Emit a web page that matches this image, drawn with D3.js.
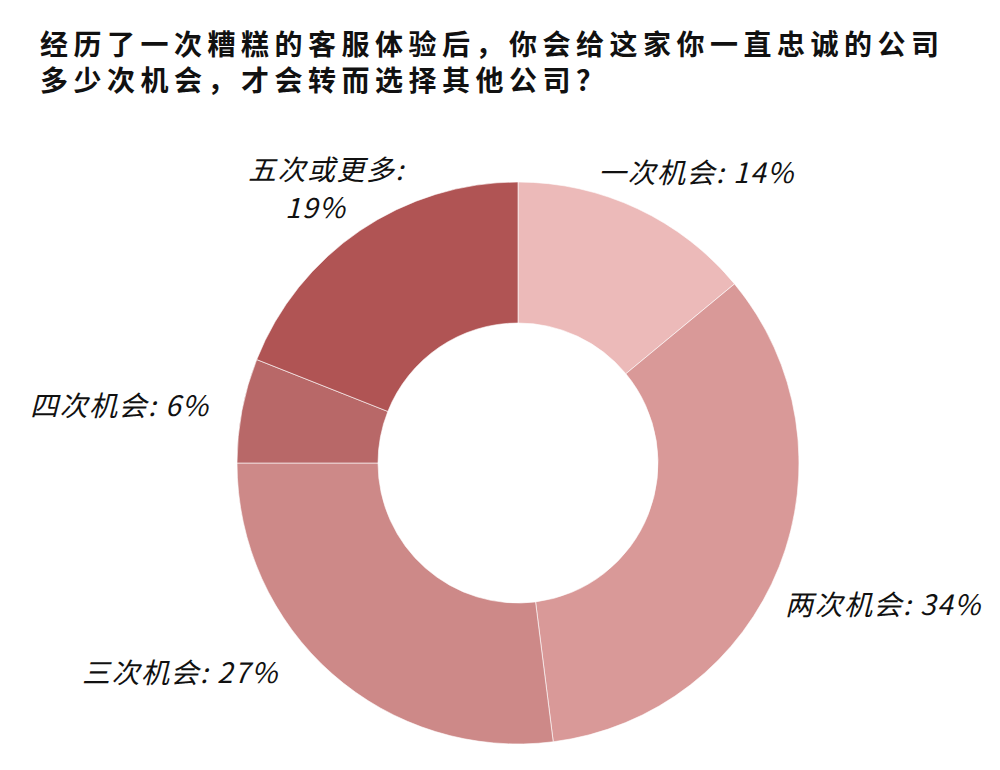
<!DOCTYPE html>
<html><head><meta charset="utf-8">
<script src="https://cdn.jsdelivr.net/npm/d3@7/dist/d3.min.js"></script>
<style>body{margin:0;background:#fff}</style></head>
<body><svg id="c" width="1000" height="770"></svg>
<script>
const categories = ["一次机会","两次机会","三次机会","四次机会","五次或更多"];
const values = [14,34,27,6,19];
const colors = ["#ECBAB9","#D99998","#CD8988","#B86868","#B05454"];
const titleLines = ["经历了一次糟糕的客服体验后，你会给这家你一直忠诚的公司","多少次机会，才会转而选择其他公司？"];

const svg = d3.select("#c");
const font = "'Noto Sans CJK SC', sans-serif";
svg.selectAll("text.t").data(titleLines).join("text")
  .attr("x",40).attr("y",(d,i)=>55+i*36)
  .attr("font-family",font).attr("font-weight","bold").attr("font-size",28)
  .attr("letter-spacing",5.5).attr("fill","#111").text(d=>d);

const cx=518, cy=463, R=281, r=140;
const pie = d3.pie().sort(null).value(d=>d)(values);
const arc = d3.arc().innerRadius(r).outerRadius(R);
const g = svg.append("g").attr("transform",`translate(${cx},${cy})`);
g.selectAll("path").data(pie).join("path").attr("d",arc)
  .attr("fill",(d,i)=>colors[i]).attr("stroke","#fff").attr("stroke-width",0.6);

const labelPos = [
  {x:598,y:183,lines:[categories[0]+": "+values[0]+"%"]},
  {x:785,y:615,lines:[categories[1]+": "+values[1]+"%"]},
  {x:82,y:683,lines:[categories[2]+": "+values[2]+"%"]},
  {x:30,y:416,lines:[categories[3]+": "+values[3]+"%"]},
  {x:248,y:180,lines:[categories[4]+":",values[4]+"%"],x2:285}
];
labelPos.forEach(p=>{
  p.lines.forEach((l,i)=>{
    svg.append("text").attr("x",i?p.x2:p.x).attr("y",p.y+i*38)
      .attr("font-family",font).attr("font-style","italic").attr("font-size",28)
      .attr("letter-spacing",1.5).attr("fill","#111").text(l);
  });
});
</script></body></html>
